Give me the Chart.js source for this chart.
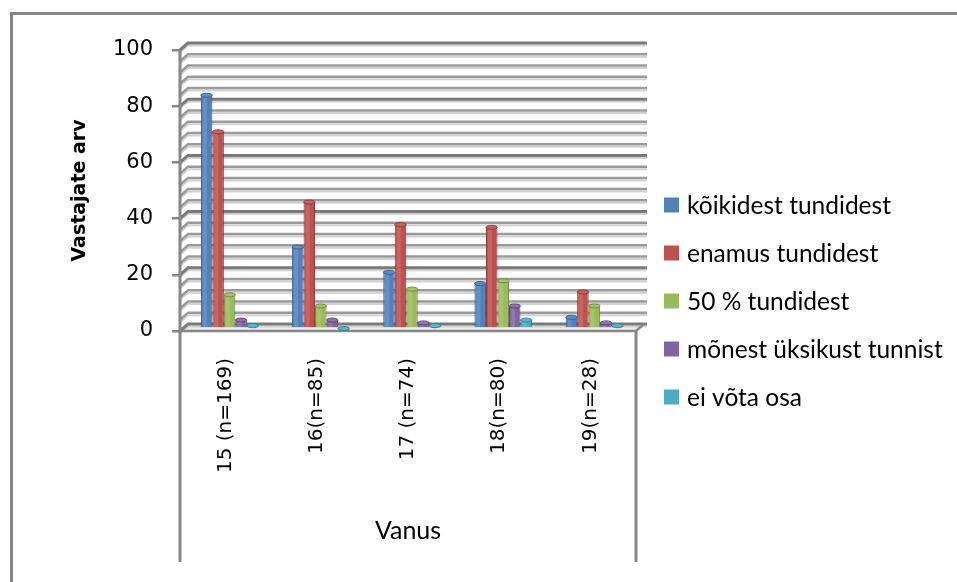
<!DOCTYPE html>
<html>
<head>
<meta charset="utf-8">
<script src="https://cdn.jsdelivr.net/npm/chart.js@4.4.1/dist/chart.umd.min.js"></script>
<style>
  html, body { margin: 0; padding: 0; background: #fff; }
  #wrap { position: relative; width: 957px; height: 582px; }
</style>
</head>
<body>
<div id="wrap"><canvas id="osalus"></canvas></div>
<script>
// vanuserühmad ja vastajate arv
const vanus = ['15 (n=169)', '16(n=85)', '17 (n=74)', '18(n=80)', '19(n=28)'];
const koikidest = [83, 29, 20, 16, 4];
const enamus = [70, 45, 37, 36, 13];
const pool = [12, 8, 14, 17, 8];
const monest = [3, 3, 2, 8, 2];
const eiOsale = [1, 0, 1, 3, 1];
const seeriad = ['kõikidest tundidest', 'enamus tundidest', '50 % tundidest', 'mõnest üksikust tunnist', 'ei võta osa'];
const varvid = ['#4F81BD', '#C0504D', '#9BBB59', '#8064A2', '#4BACC6'];
const yMax = 100;
const yStep = 20;
const gridStep = 4;

// 3D sügavus
const DX = 8, DY = -7;
const AXIS_BOTTOM = 562;

function lighten(hex, f) {
  const n = parseInt(hex.slice(1), 16);
  const r = (n >> 16) & 255, g = (n >> 8) & 255, b = n & 255;
  const m = c => Math.round(c + (255 - c) * f);
  return `rgb(${m(r)},${m(g)},${m(b)})`;
}
function darken(hex, f) {
  const n = parseInt(hex.slice(1), 16);
  const r = (n >> 16) & 255, g = (n >> 8) & 255, b = n & 255;
  const m = c => Math.round(c * (1 - f));
  return `rgb(${m(r)},${m(g)},${m(b)})`;
}

function path(ctx, pts) {
  ctx.beginPath();
  ctx.moveTo(pts[0][0], pts[0][1]);
  for (let i = 1; i < pts.length; i++) ctx.lineTo(pts[i][0], pts[i][1]);
  ctx.stroke();
}

const raam = {
  id: 'raam',
  beforeDraw(chart) {
    const ctx = chart.ctx;
    ctx.save();
    ctx.strokeStyle = '#858585';
    ctx.lineWidth = 3;
    ctx.strokeRect(11.5, 13.5, 1000, 700);
    ctx.restore();
  }
};

const sein3d = {
  id: 'sein3d',
  beforeDatasetsDraw(chart) {
    const {ctx, chartArea: a, scales: {y}} = chart;
    ctx.save();
    const y0 = y.getPixelForValue(0);
    // põrand
    ctx.fillStyle = '#eeeeee';
    ctx.beginPath();
    ctx.moveTo(a.left, y0);
    ctx.lineTo(a.right, y0);
    ctx.lineTo(a.right + DX, y0 + DY);
    ctx.lineTo(a.left + DX, y0 + DY);
    ctx.closePath();
    ctx.fill();
    for (let v = 0; v <= yMax; v += gridStep) {
      const py = y.getPixelForValue(v);
      const major = v % yStep === 0;
      const xr = a.right + DX + 3;
      ctx.lineWidth = 2;
      ctx.strokeStyle = '#d2d2d2';
      path(ctx, [[a.left, py + 2.5], [a.left + DX, py + DY + 2.5], [xr, py + DY + 2.5]]);
      ctx.lineWidth = major ? 3 : 2.5;
      ctx.strokeStyle = major ? '#7a7a7a' : '#9a9a9a';
      path(ctx, [[a.left, py], [a.left + DX, py + DY], [xr, py + DY]]);
    }
    // põranda esiserv ja telgede jooned
    ctx.strokeStyle = '#878787';
    ctx.lineWidth = 2.5;
    path(ctx, [[a.left, y0], [a.right, y0], [a.right + DX, y0 + DY]]);
    ctx.lineWidth = 3;
    path(ctx, [[a.left, y.getPixelForValue(yMax)], [a.left, AXIS_BOTTOM]]);
    path(ctx, [[a.right, y0], [a.right, AXIS_BOTTOM]]);
    ctx.restore();

    // tulbad istuvad sügavuse keskel
    ctx.save();
    ctx.translate(4, -2.5);
  },
  afterDatasetsDraw(chart) {
    const ctx = chart.ctx;
    chart.data.datasets.forEach((ds, i) => {
      const meta = chart.getDatasetMeta(i);
      meta.data.forEach(bar => {
        const w = bar.width, h = bar.base - bar.y;
        const l = bar.x - w / 2;
        if (h > 2) {
          ctx.fillStyle = 'rgba(255,255,255,0.12)';
          ctx.fillRect(l + 2, bar.y, w * 0.35, h);
        }
        ctx.fillStyle = lighten(ds.backgroundColor, 0.1);
        ctx.strokeStyle = darken(ds.backgroundColor, 0.25);
        ctx.lineWidth = 1;
        ctx.beginPath();
        ctx.ellipse(bar.x, bar.y, w / 2, 2, 0, 0, Math.PI * 2);
        ctx.fill();
        ctx.stroke();
      });
    });
    ctx.restore();
  }
};

const legendTulp = {
  id: 'legendTulp',
  afterDraw(chart) {
    const ctx = chart.ctx;
    ctx.save();
    ctx.font = '24.5px Lato';
    ctx.textBaseline = 'middle';
    ctx.textAlign = 'left';
    chart.data.datasets.forEach((ds, i) => {
      const cy = 205 + i * 48;
      ctx.fillStyle = ds.backgroundColor;
      ctx.fillRect(664, cy - 7.5, 15, 15);
      ctx.fillStyle = '#000';
      ctx.fillText(ds.label, 687, cy + 1);
    });
    ctx.restore();
  }
};

const andmed = [koikidest, enamus, pool, monest, eiOsale];

new Chart(document.getElementById('osalus'), {
  type: 'bar',
  data: {
    labels: vanus,
    datasets: andmed.map((d, i) => ({
      label: seeriad[i],
      data: d,
      backgroundColor: varvid[i],
      borderColor: darken(varvid[i], 0.3),
      borderWidth: 1,
      categoryPercentage: 0.63,
      barPercentage: 1.0
    }))
  },
  options: {
    responsive: true,
    maintainAspectRatio: false,
    animation: false,
    layout: { padding: { left: 10, right: 321, top: 50, bottom: 0 } },
    plugins: {
      legend: { display: false },
      tooltip: { enabled: false }
    },
    scales: {
      x: {
        grid: { display: false, drawTicks: false },
        border: { display: false },
        ticks: {
          minRotation: 90,
          maxRotation: 90,
          padding: 27,
          color: '#000',
          font: { family: 'DejaVu Sans', size: 20 }
        },
        title: {
          display: true,
          text: 'Vanus',
          color: '#000',
          font: { family: 'Lato', size: 25 },
          padding: { top: 0, bottom: 36 }
        },
        afterFit(scale) { scale.height = 251; }
      },
      y: {
        min: 0,
        max: yMax,
        ticks: {
          stepSize: yStep,
          padding: 19,
          color: '#000',
          font: { family: 'DejaVu Sans', size: 21 }
        },
        grid: {
          drawOnChartArea: false,
          drawTicks: true,
          tickLength: 8,
          color: '#878787',
          lineWidth: 2.5
        },
        border: { display: false },
        title: {
          display: true,
          text: 'Vastajate arv',
          color: '#000',
          font: { family: 'DejaVu Sans', size: 19, weight: 'bold' },
          padding: { top: 59, bottom: 0 }
        },
        afterFit(scale) { scale.width = 170; }
      }
    }
  },
  plugins: [raam, sein3d, legendTulp]
});
</script>
</body>
</html>
